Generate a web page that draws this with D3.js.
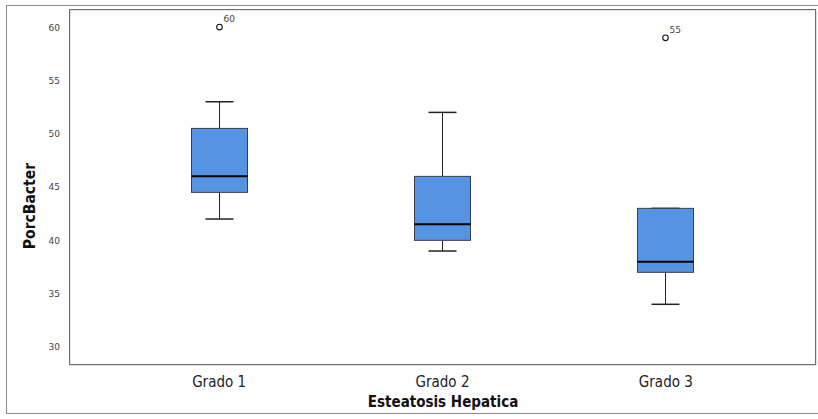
<!DOCTYPE html>
<html>
<head>
<meta charset="utf-8">
<script src="https://cdn.jsdelivr.net/npm/d3@7"></script>
<style>
  body { margin: 0; background: #fff; }
  .tick text { font-family: "DejaVu Sans", sans-serif; font-size: 9px; fill: #444; }
  .axisTitle { font-family: "DejaVu Sans Condensed", "Liberation Sans Narrow", sans-serif; font-weight: bold; fill: #111; }
  .caseLabel { font-family: "DejaVu Sans", sans-serif; font-size: 9px; fill: #444; }
</style>
</head>
<body>
<script>
(function() {

//chart data
var categories = ["Grado 1", "Grado 2", "Grado 3"];
var whiskerLow = [42, 39, 34];
var q1 = [44.5, 40, 37];
var median = [46, 41.5, 38];
var q3 = [50.5, 46, 43];
var whiskerHigh = [53, 52, 43];
var outlierValues = [60, null, 59];
var outlierCases = ["60", null, "55"];
var yTicks = [30, 35, 40, 45, 50, 55, 60];

//frame dimensions
var width = 818,
    height = 419,
    plotLeft = 69,
    plotRight = 815,
    plotTop = 9,
    plotBottom = 364,
    boxWidth = 56;

var svg = d3.select("body")
    .append("svg")
    .attr("width", width)
    .attr("height", height);

//outer frame (right side runs off the picture)
svg.append("rect")
    .attr("x", 6.5)
    .attr("y", 5.5)
    .attr("width", 830)
    .attr("height", 408)
    .attr("fill", "none")
    .attr("stroke", "#8a8a8a")
    .attr("stroke-width", 1);

//scales
var yScale = d3.scaleLinear()
    .domain([28.4, 61.7])
    .range([plotBottom, plotTop]);

var xScale = d3.scalePoint()
    .domain(categories)
    .range([plotLeft, plotRight])
    .padding(0.67);

//y axis
var yAxis = d3.axisLeft(yScale)
    .tickValues(yTicks)
    .tickSize(0)
    .tickPadding(9);

var yg = svg.append("g")
    .attr("transform", "translate(" + plotLeft + ",0)")
    .call(yAxis);
yg.select(".domain").remove();

//x axis labels
var xAxis = d3.axisBottom(xScale)
    .tickSize(0)
    .tickPadding(12);

var xg = svg.append("g")
    .attr("transform", "translate(0," + plotBottom + ")")
    .call(xAxis);
xg.select(".domain").remove();
xg.selectAll(".tick text")
    .style("font-family", "'DejaVu Sans Condensed', 'Liberation Sans Narrow', sans-serif")
    .style("font-size", "15px")
    .style("fill", "#222");

//axis titles
svg.append("text")
    .attr("class", "axisTitle")
    .attr("x", 443)
    .attr("y", 407)
    .attr("text-anchor", "middle")
    .style("font-size", "15px")
    .text("Esteatosis Hepatica");

svg.append("text")
    .attr("class", "axisTitle")
    .attr("transform", "translate(35,206) rotate(-90)")
    .attr("text-anchor", "middle")
    .style("font-size", "15.5px")
    .text("PorcBacter");

//plot frame with a faint shadow
svg.append("rect")
    .attr("x", plotLeft + 1)
    .attr("y", plotTop + 1)
    .attr("width", plotRight - plotLeft)
    .attr("height", plotBottom - plotTop)
    .attr("fill", "none")
    .attr("stroke", "#c8c8c8");

svg.append("rect")
    .attr("x", plotLeft + 0.5)
    .attr("y", plotTop + 0.5)
    .attr("width", plotRight - plotLeft)
    .attr("height", plotBottom - plotTop)
    .attr("fill", "none")
    .attr("stroke", "#6e6e6e");

//box plots
var boxes = svg.selectAll(".box")
    .data(categories)
    .enter()
    .append("g")
    .attr("class", "box");

boxes.each(function(cat, i) {
    var g = d3.select(this),
        cx = Math.round(xScale(cat)) + 0.5;

    //whisker stems
    g.append("line")
        .attr("x1", cx).attr("x2", cx)
        .attr("y1", yScale(whiskerHigh[i])).attr("y2", yScale(q3[i]))
        .attr("stroke", "#222");
    g.append("line")
        .attr("x1", cx).attr("x2", cx)
        .attr("y1", yScale(q1[i])).attr("y2", yScale(whiskerLow[i]))
        .attr("stroke", "#222");

    //whisker caps
    [whiskerHigh[i], whiskerLow[i]].forEach(function(v) {
        g.append("line")
            .attr("x1", cx - boxWidth / 4).attr("x2", cx + boxWidth / 4)
            .attr("y1", yScale(v)).attr("y2", yScale(v))
            .attr("stroke", "#222")
            .attr("stroke-width", 1.5);
    });

    //box
    g.append("rect")
        .attr("x", cx - boxWidth / 2)
        .attr("y", yScale(q3[i]))
        .attr("width", boxWidth)
        .attr("height", yScale(q1[i]) - yScale(q3[i]))
        .attr("fill", "#5593e3")
        .attr("stroke", "#3a3f48")
        .attr("stroke-width", 1);

    //median
    g.append("line")
        .attr("x1", cx - boxWidth / 2).attr("x2", cx + boxWidth / 2)
        .attr("y1", yScale(median[i])).attr("y2", yScale(median[i]))
        .attr("stroke", "#000")
        .attr("stroke-width", 2);

    //outlier and case number
    if (outlierValues[i] != null) {
        g.append("circle")
            .attr("cx", cx)
            .attr("cy", yScale(outlierValues[i]))
            .attr("r", 2.8)
            .attr("fill", "none")
            .attr("stroke", "#111")
            .attr("stroke-width", 1.1);
        g.append("text")
            .attr("class", "caseLabel")
            .attr("x", cx + 4)
            .attr("y", yScale(outlierValues[i]) - 5)
            .text(outlierCases[i]);
    }
});

})();
</script>
</body>
</html>
